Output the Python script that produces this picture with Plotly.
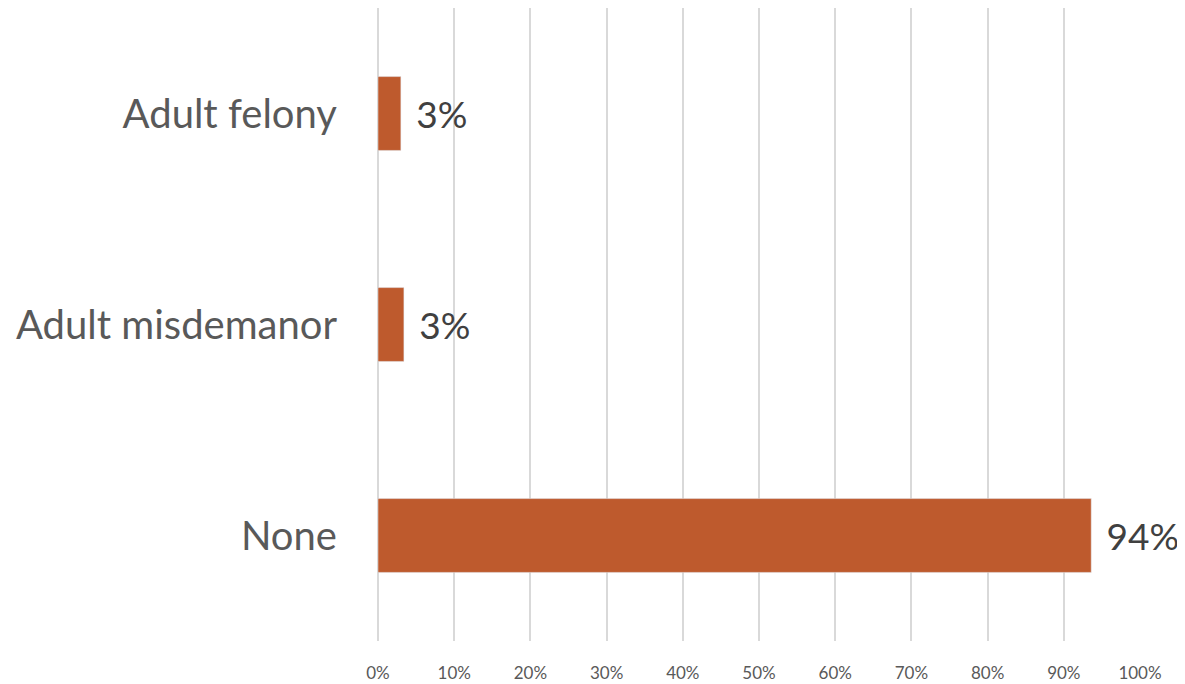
import plotly.graph_objects as go

categories = ["None", "Adult misdemanor", "Adult felony"]
values = [93.6, 3.4, 3.0]
labels = ["94%", "3%", "3%"]
tick_vals = [0, 10, 20, 30, 40, 50, 60, 70, 80, 90, 100]
tick_text = ["0%", "10%", "20%", "30%", "40%", "50%", "60%", "70%", "80%", "90%", "100%"]

fig = go.Figure(go.Bar(
    y=categories, x=values, orientation="h",
    marker=dict(color="#BE5A2D"),
    width=0.35,
    text=labels, texttemplate="\u2004%{text}", textposition="outside", cliponaxis=False,
    textfont=dict(family="Lato", size=37, color="#404040"),
))
fig.update_layout(
    width=1177, height=676,
    margin=dict(l=370, r=45, t=0, b=43, autoexpand=False),
    plot_bgcolor="white", paper_bgcolor="white",
    showlegend=False,
    xaxis=dict(range=[0, 100], tickvals=tick_vals, ticktext=tick_text,
               showgrid=True, gridcolor="#D9D9D9", gridwidth=2,
               zeroline=True, zerolinecolor="#D9D9D9", zerolinewidth=2,
               showline=False, automargin=False,
               tickfont=dict(family="Lato", size=17, color="#595959"),
               ticklabelstandoff=20),
    yaxis=dict(categoryorder="array", categoryarray=categories,
               showgrid=False, zeroline=False, showline=False, automargin=False,
               tickfont=dict(family="Lato", size=40, color="#595959"),
               ticklabelstandoff=40),
)
fig.write_html("out.html")
